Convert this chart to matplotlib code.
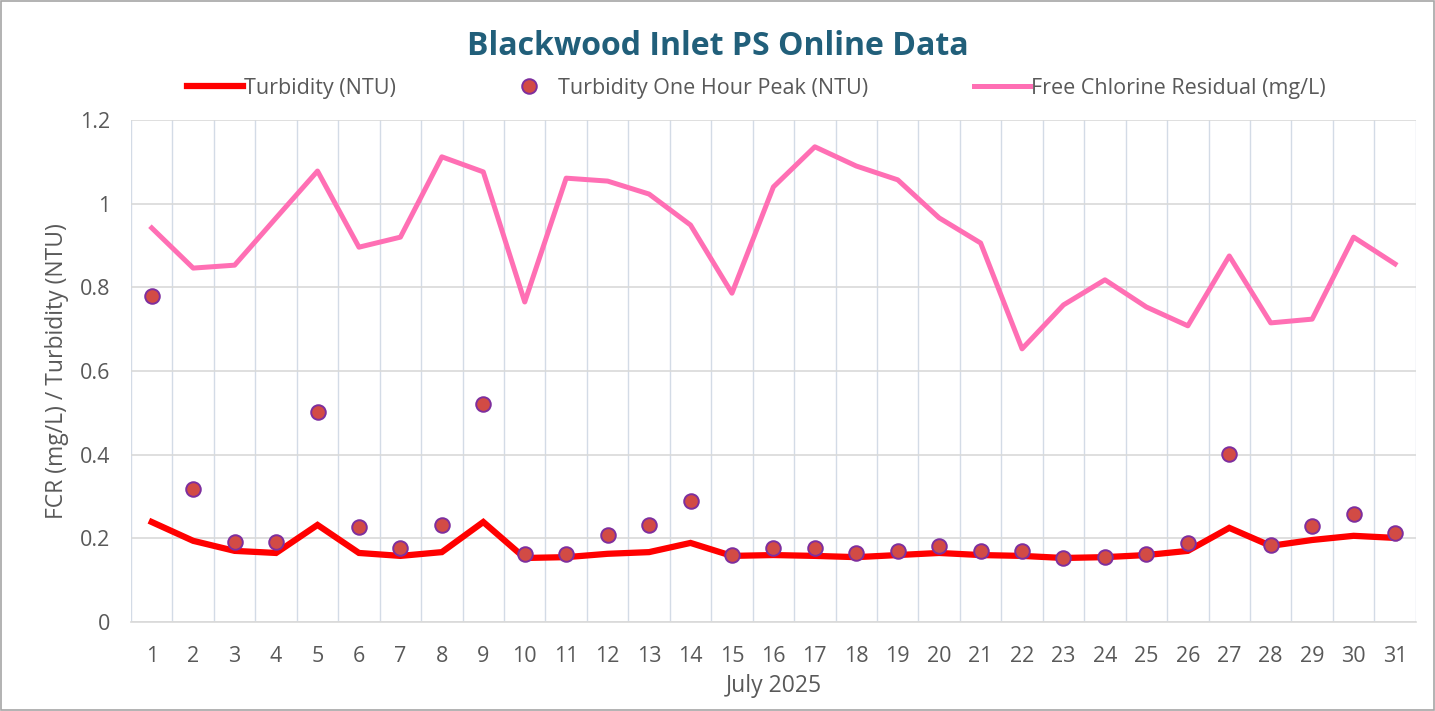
import matplotlib.pyplot as plt
import numpy as np
from matplotlib.patches import Rectangle
from matplotlib.ticker import FuncFormatter, MultipleLocator

plt.rcParams['font.family'] = ['Open Sans', 'DejaVu Sans']

days = list(range(1, 32))

turbidity = [0.239, 0.194, 0.170, 0.165, 0.232, 0.165, 0.158, 0.167, 0.239, 0.153,
             0.155, 0.163, 0.167, 0.189, 0.158, 0.160, 0.158, 0.155, 0.160, 0.165,
             0.160, 0.158, 0.153, 0.155, 0.160, 0.170, 0.225, 0.182, 0.196, 0.206,
             0.201]

turbidity_peak = [0.779, 0.318, 0.191, 0.191, 0.502, 0.227, 0.177, 0.232, 0.521, 0.163,
                  0.163, 0.208, 0.232, 0.289, 0.160, 0.177, 0.177, 0.165, 0.170, 0.182,
                  0.170, 0.170, 0.153, 0.155, 0.163, 0.189, 0.402, 0.184, 0.230, 0.258,
                  0.213]

fcr = [0.942, 0.846, 0.853, 0.966, 1.078, 0.896, 0.920, 1.112, 1.076, 0.765,
       1.061, 1.054, 1.023, 0.949, 0.786, 1.040, 1.136, 1.090, 1.057, 0.966,
       0.906, 0.653, 0.758, 0.818, 0.753, 0.708, 0.875, 0.715, 0.724, 0.920,
       0.856]

text_color = '#595959'

fig = plt.figure(figsize=(14.35, 7.11), dpi=100)
ax = fig.add_axes([0.0913, 0.1252, 0.8953, 0.706])

x = np.arange(len(days))
ax.plot(x, turbidity, color='#FF0000', lw=4.5, solid_joinstyle='miter',
        label='Turbidity (NTU)', zorder=3)
ax.plot(x, turbidity_peak, ls='none', marker='o', ms=10.5, mfc='#D24B45',
        mec='#7E2F9E', mew=1.4, label='Turbidity One Hour Peak (NTU)', zorder=4)
ax.plot(x, fcr, color='#FF6FB4', lw=3.6, label='Free Chlorine Residual (mg/L)', zorder=3)

ax.set_xlim(-0.5, len(days) - 0.5)
ax.set_ylim(0, 1.2)
ax.set_xticks(x)
ax.set_xticklabels([str(d) for d in days])
ax.set_xticks(np.arange(-0.5, len(days), 1), minor=True)
ax.yaxis.set_major_locator(MultipleLocator(0.2))
ax.yaxis.set_major_formatter(FuncFormatter(lambda v, p: f'{v:g}'))

ax.tick_params(axis='x', which='major', length=0, pad=17, labelsize=15.5, colors=text_color)
ax.tick_params(axis='x', which='minor', length=0)
ax.tick_params(axis='y', length=0, pad=15, labelsize=15.5, colors=text_color)

ax.grid(axis='y', which='major', color='#D9D9D9', lw=1.2, zorder=0)
ax.grid(axis='x', which='minor', color='#D3DBE6', lw=1, zorder=0)
ax.grid(axis='x', which='major', visible=False)
for s in ['top', 'right', 'left']:
    ax.spines[s].set_visible(False)
ax.spines['bottom'].set_color('#D9D9D9')
ax.spines['bottom'].set_linewidth(1.2)

ax.set_xlabel('July 2025', fontsize=16.5, color=text_color, labelpad=5)
ax.set_ylabel('FCR (mg/L) / Turbidity (NTU)', fontsize=16.5, color=text_color, labelpad=8)

fig.text(0.5, 0.935, 'Blackwood Inlet PS Online Data', ha='center', va='center',
         fontsize=23, fontweight='bold', color='#215F7A')

fig.legend(loc='center', bbox_to_anchor=(0.527, 0.876), ncol=3, frameon=False,
           fontsize=15.5, labelcolor=text_color, handlelength=2.6, handletextpad=0.05,
           columnspacing=4.9)

fig.add_artist(Rectangle((0.001, 0.001), 0.998, 0.998, transform=fig.transFigure,
                         fill=False, edgecolor='#A6A6A6', lw=1.2))

fig.savefig('out.png', dpi=100)
